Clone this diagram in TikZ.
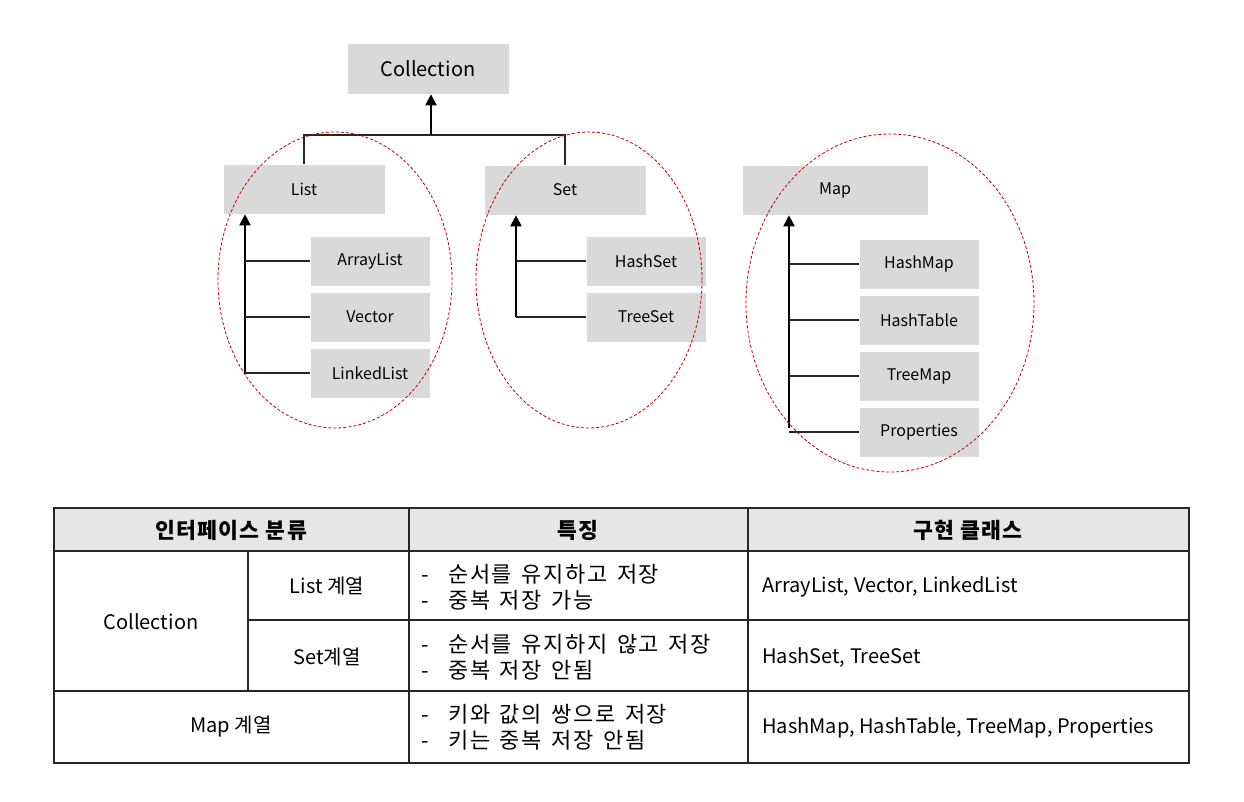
\documentclass[tikz,border=0pt]{standalone}
\usepackage{fontspec}
\setmainfont{Noto Sans CJK KR}
\newfontfamily\featfont[Scale=1.1,LetterSpace=7,WordSpace=1.5]{Noto Sans CJK KR}
\newfontfamily\headfont[Scale=1.08,LetterSpace=6]{Noto Sans CJK KR}
\usepackage{tikz}
\usetikzlibrary{positioning,arrows.meta,calc}
\definecolor{boxgray}{HTML}{D9D9D9}
\definecolor{headgray}{HTML}{E7E6E6}
\definecolor{ringred}{HTML}{C00000}
\definecolor{gridline}{HTML}{262626}

\begin{document}
\begin{tikzpicture}[
  x=1pt, y=-1pt,
  typeBox/.style={fill=boxgray, draw=white, line width=0.6pt, inner sep=0pt,
                  minimum width=162, minimum height=50,
                  font=\fontsize{16}{18}\selectfont},
  implBox/.style={typeBox, minimum width=120},
  isa/.style={line width=2pt, -{Triangle[length=11pt,width=11pt]}},
  link/.style={line width=1.2pt, gridline},
  groupRing/.style={ringred, line width=0.8pt, dash pattern=on 3pt off 2pt},
  cell/.style={font=\fontsize{20}{26}\selectfont, inner sep=0pt},
  featCell/.style={cell, anchor=west, align=left,
                   font=\featfont\fontsize{20}{26}\selectfont},
  headCell/.style={cell, font=\headfont\fontsize{20}{26}\selectfont\bfseries},
  grid/.style={line width=1.6pt, gridline}
]
  \useasboundingbox (0,0) rectangle (1244,802);

  % Interface hierarchy
  \node[typeBox, minimum height=51, font=\fontsize{20}{24}\selectfont]
    (coll) at (428,68.5) {Collection};
  \node[typeBox] (list) at (304,189) {List};
  \node[typeBox] (set) at (565,190) {Set};
  \node[typeBox, minimum width=186] (map) at (835,190) {Map};

  % Implementations
  \node[implBox] (arrayl) at (370,261) {ArrayList};
  \node[implBox] (vector) at (370,317) {Vector};
  \node[implBox] (linkedl) at (370,373) {LinkedList};
  \node[implBox] (hashset) at (646,261) {HashSet};
  \node[implBox] (treeset) at (646,317) {TreeSet};
  \node[implBox] (hashmap) at (919,264) {HashMap};
  \node[implBox] (hashtable) at (919,320) {HashTable};
  \node[implBox] (treemap) at (919,376) {TreeMap};
  \node[implBox] (props) at (919,432) {Properties};

  % List / Set join Collection
  \coordinate (bar) at (431,135);
  \draw[link] (list.north) |- (bar) -| (set.north);
  \draw[isa] (bar) -- (bar |- coll.south);

  % Spines
  \coordinate (listEnd) at (245,374);
  \coordinate (setEnd) at (516,317);
  \coordinate (mapEnd) at (789,428);
  \draw[isa] (listEnd) -- (listEnd |- list.south);
  \draw[isa] (setEnd) -- (setEnd |- set.south);
  \draw[isa] (mapEnd) -- (mapEnd |- map.south);
  \foreach \c in {arrayl,vector,linkedl}
    \draw[link] (\c.west) -- (\c.west -| listEnd);
  \foreach \c in {hashset,treeset}
    \draw[link] (\c.west) -- (\c.west -| setEnd);
  \foreach \c in {hashmap,hashtable,treemap,props}
    \draw[link] (\c.west) -- (\c.west -| mapEnd);

  % Group rings
  \draw[groupRing] (335,280) ellipse [x radius=117pt, y radius=148pt];
  \draw[groupRing] (589,280) ellipse [x radius=113pt, y radius=148pt];
  \draw[groupRing] (890,303) ellipse [x radius=144pt, y radius=169pt];

  % Table
  \fill[headgray] (54,508) rectangle (1189,551);
  \draw[grid] (54,508) rectangle (1189,763);
  \draw[grid] (54,551) -- (1189,551);
  \draw[grid] (248,620) -- (1189,620);
  \draw[grid] (54,691) -- (1189,691);
  \draw[grid] (409,508) -- (409,763);
  \draw[grid] (748,508) -- (748,763);
  \draw[grid] (248,551) -- (248,691);

  \node[headCell] (hkind) at (231,530) {인터페이스 분류};
  \node[headCell] (hfeat) at (578,530) {특징};
  \node[headCell] (himpl) at (968,530) {구현 클래스};

  \node[cell] (tcoll) at (151,622) {Collection};
  \node[cell] (tlist) at (327,586) {List 계열};
  \node[cell] (tset) at (327,657) {Set계열};
  \node[cell] (tmap) at (231,727) {Map 계열};

  \node[featCell] (flist) at (421,587)
    {-\ \ 순서를 유지하고 저장\\-\ \ 중복 저장 가능};
  \node[featCell] (fset) at (421,657)
    {-\ \ 순서를 유지하지 않고 저장\\-\ \ 중복 저장 안됨};
  \node[featCell] (fmap) at (421,727)
    {-\ \ 키와 값의 쌍으로 저장\\-\ \ 키는 중복 저장 안됨};

  \node[cell, anchor=west] (clist) at (762,587) {ArrayList, Vector, LinkedList};
  \node[cell, anchor=west] (cset) at (762,657) {HashSet, TreeSet};
  \node[cell, anchor=west] (cmap) at (762,728)
    {HashMap, HashTable, TreeMap, Properties};
\end{tikzpicture}
\end{document}
